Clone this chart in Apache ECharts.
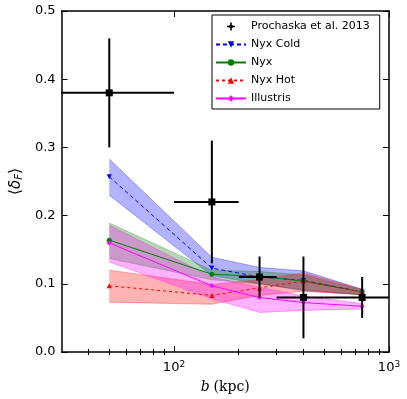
<!DOCTYPE html>
<html>
<head>
<meta charset="utf-8">
<script src="https://cdn.jsdelivr.net/npm/echarts@6/dist/echarts.min.js"></script>
<style>
  html, body { margin: 0; padding: 0; background: #fff; }
  #chart { width: 407px; height: 399px; }
</style>
</head>
<body>
<div id="chart"></div>
<script>
// Prochaska et al. 2013 observations
const obsB = [50, 150, 250, 400, 750]
const obsBLo = [25, 100, 200, 300, 500]
const obsBHi = [100, 200, 300, 500, 1000]
const obsDelta = [0.38, 0.22, 0.11, 0.08, 0.08]
const obsDeltaLo = [0.30, 0.13, 0.08, 0.02, 0.05]
const obsDeltaHi = [0.46, 0.31, 0.14, 0.14, 0.11]

// simulations, sampled at the same impact parameters
const simB = [50, 150, 250, 400, 750]
const coldMean = [0.257, 0.123, 0.110, 0.105, 0.088]
const coldLo = [0.230, 0.112, 0.100, 0.090, 0.084]
const coldHi = [0.283, 0.139, 0.124, 0.119, 0.092]
const nyxMean = [0.164, 0.114, 0.111, 0.104, 0.088]
const nyxLo = [0.137, 0.106, 0.100, 0.091, 0.084]
const nyxHi = [0.189, 0.120, 0.118, 0.113, 0.091]
const hotMean = [0.097, 0.083, 0.094, 0.104, 0.088]
const hotLo = [0.073, 0.070, 0.083, 0.089, 0.084]
const hotHi = [0.120, 0.099, 0.106, 0.116, 0.092]
const illMean = [0.160, 0.097, 0.080, 0.0725, 0.067]
const illLo = [0.132, 0.078, 0.058, 0.061, 0.063]
const illHi = [0.186, 0.110, 0.095, 0.082, 0.071]

// axis ticks
const xMajorTicks = [100, 1000]
const xMinorTicks = [40, 50, 60, 70, 80, 90, 200, 300, 400, 500, 600, 700, 800, 900]

const FONT = 'DejaVu Sans'
const black = '#000'

const myChart = echarts.init(document.getElementById('chart'))

const xBase = {
  type: 'log',
  logBase: 10,
  min: 30,
  max: 1000,
  splitLine: { show: false }
}

// shaded band: one quad per segment between neighbouring b values
function band(lo, hi, color) {
  const segs = []
  for (let i = 0; i < simB.length - 1; i++) {
    segs.push([simB[i], lo[i], hi[i], simB[i + 1], lo[i + 1], hi[i + 1]])
  }
  return {
    type: 'custom',
    silent: true,
    clip: true,
    z: 1,
    data: segs,
    encode: { x: [0, 3], y: [1, 2, 4, 5] },
    renderItem: function (params, api) {
      const a0 = api.coord([api.value(0), api.value(1)])
      const a1 = api.coord([api.value(0), api.value(2)])
      const b0 = api.coord([api.value(3), api.value(4)])
      const b1 = api.coord([api.value(3), api.value(5)])
      const edge = { stroke: color, lineWidth: 1, opacity: 0.3 }
      return {
        type: 'group',
        children: [
          { type: 'polygon', shape: { points: [a0, b0, b1, a1] }, style: { fill: color, opacity: 0.3 } },
          { type: 'line', shape: { x1: a0[0], y1: a0[1], x2: b0[0], y2: b0[1] }, style: edge },
          { type: 'line', shape: { x1: a1[0], y1: a1[1], x2: b1[0], y2: b1[1] }, style: edge }
        ]
      }
    }
  }
}

function meanLine(name, mean, color, dash, symbol, rotate) {
  return {
    type: 'line',
    name: name,
    data: simB.map((b, i) => [b, mean[i]]),
    symbol: symbol,
    symbolSize: 5,
    symbolRotate: rotate || 0,
    itemStyle: { color: color },
    lineStyle: { color: color, width: 1, type: dash },
    z: 3
  }
}

let option = {
  animation: false,
  textStyle: { fontFamily: FONT },
  grid: { left: 58, right: 18, top: 11, bottom: 47, containLabel: false },
  legend: {
    orient: 'vertical',
    left: 212,
    top: 15,
    width: 171,
    padding: [6, 10, 5, 3],
    itemWidth: 30,
    itemHeight: 8,
    itemGap: 7,
    backgroundColor: '#fff',
    borderColor: black,
    borderWidth: 1,
    borderRadius: 0,
    textStyle: { fontFamily: FONT, fontSize: 11, color: black },
    data: [
      { name: 'Prochaska et al. 2013', icon: 'path://M4,0H6V3H7V4H10V6H7V7H6V10H4V7H3V6H0V4H3V3H4Z', itemStyle: { color: black } },
      'Nyx Cold', 'Nyx', 'Nyx Hot', 'Illustris'
    ]
  },
  xAxis: [
    {
      ...xBase,
      position: 'bottom',
      axisLine: { show: true, onZero: false, lineStyle: { color: black, width: 1.5 } },
      axisTick: { inside: true, length: 6, customValues: xMajorTicks, lineStyle: { color: black } },
      axisLabel: {
        customValues: xMajorTicks,
        margin: 8,
        formatter: v => '{b|10}{s|' + Math.round(Math.log10(v)) + '}',
        rich: {
          b: { fontFamily: FONT, fontSize: 13, color: black },
          s: { fontFamily: FONT, fontSize: 9, color: black, verticalAlign: 'top', padding: [0, 0, 6, 0] }
        }
      },
      name: '{i|b} {r|(kpc)}',
      nameLocation: 'middle',
      nameGap: 28,
      nameTextStyle: {
        rich: {
          i: { fontFamily: 'DejaVu Serif', fontStyle: 'italic', fontSize: 14, color: black },
          r: { fontFamily: 'DejaVu Serif', fontSize: 14, color: black }
        }
      }
    },
    {
      ...xBase,
      position: 'bottom',
      axisLine: { show: false },
      axisTick: { inside: true, length: 3, customValues: xMinorTicks, lineStyle: { color: black } },
      axisLabel: { show: false }
    },
    {
      ...xBase,
      position: 'top',
      axisLine: { show: true, onZero: false, lineStyle: { color: black, width: 1.5 } },
      axisTick: { inside: true, length: 6, customValues: xMajorTicks, lineStyle: { color: black } },
      axisLabel: { show: false }
    },
    {
      ...xBase,
      position: 'top',
      axisLine: { show: false },
      axisTick: { inside: true, length: 3, customValues: xMinorTicks, lineStyle: { color: black } },
      axisLabel: { show: false }
    }
  ],
  yAxis: [
    {
      type: 'value',
      position: 'left',
      min: 0,
      max: 0.5,
      interval: 0.1,
      splitLine: { show: false },
      axisLine: { show: true, onZero: false, lineStyle: { color: black, width: 1.5 } },
      axisTick: { inside: true, length: 6, lineStyle: { color: black } },
      axisLabel: { fontFamily: FONT, fontSize: 13, color: black, margin: 6, formatter: v => v.toFixed(1) },
      name: '{a|⟨}{d|δ}{s|F}{a|⟩}',
      nameLocation: 'middle',
      nameRotate: 90,
      nameGap: 36,
      nameTextStyle: {
        rich: {
          a: { fontFamily: FONT, fontSize: 16, color: black },
          d: { fontFamily: FONT, fontStyle: 'italic', fontSize: 15, color: black },
          s: { fontFamily: FONT, fontStyle: 'italic', fontSize: 10, color: black, verticalAlign: 'bottom', padding: [6, 0, 0, 0] }
        }
      }
    },
    {
      type: 'value',
      position: 'right',
      min: 0,
      max: 0.5,
      interval: 0.1,
      splitLine: { show: false },
      axisLine: { show: true, onZero: false, lineStyle: { color: black, width: 1.5 } },
      axisTick: { inside: true, length: 6, lineStyle: { color: black } },
      axisLabel: { show: false }
    }
  ],
  series: [
    band(coldLo, coldHi, '#0000ff'),
    band(nyxLo, nyxHi, '#008000'),
    band(hotLo, hotHi, '#ff0000'),
    band(illLo, illHi, '#ff00ff'),
    meanLine('Nyx Cold', coldMean, '#0000ff', [4, 3], 'triangle', 180),
    meanLine('Nyx', nyxMean, '#008000', 'solid', 'circle'),
    meanLine('Nyx Hot', hotMean, '#ff0000', [3, 3], 'triangle'),
    meanLine('Illustris', illMean, '#ff00ff', 'solid', 'diamond'),
    {
      type: 'custom',
      name: 'Prochaska et al. 2013',
      clip: true,
      z: 5,
      itemStyle: { color: black },
      data: obsB.map((b, i) => [b, obsDelta[i], obsBLo[i], obsBHi[i], obsDeltaLo[i], obsDeltaHi[i]]),
      renderItem: function (params, api) {
        const x = api.value(0)
        const y = api.value(1)
        const c = api.coord([x, y])
        const l = api.coord([api.value(2), y])
        const r = api.coord([api.value(3), y])
        const lo = api.coord([x, api.value(4)])
        const hi = api.coord([x, api.value(5)])
        const st = { stroke: black, lineWidth: 2 }
        return {
          type: 'group',
          children: [
            { type: 'line', shape: { x1: l[0], y1: l[1], x2: r[0], y2: r[1] }, style: st },
            { type: 'line', shape: { x1: lo[0], y1: lo[1], x2: hi[0], y2: hi[1] }, style: st },
            { type: 'rect', shape: { x: c[0] - 3.5, y: c[1] - 3.5, width: 7, height: 7 }, style: { fill: black } }
          ]
        }
      }
    }
  ]
}

myChart.setOption(option)
</script>
</body>
</html>
